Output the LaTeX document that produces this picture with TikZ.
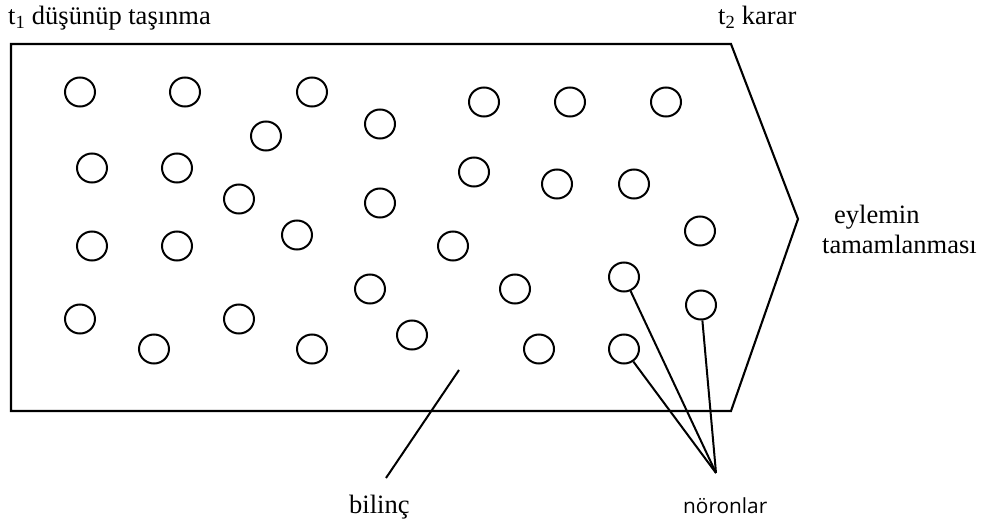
\documentclass[tikz,border=0pt]{standalone}
\usepackage{fontspec}
\setmainfont{Liberation Serif}
\newfontfamily\labelsans{Open Sans}
\usetikzlibrary{shapes.geometric}
\tikzset{
  neuron/.style={ellipse, draw, line width=2pt, minimum width=30pt, minimum height=29pt, inner sep=0pt},
  pointer/.style={line width=2pt},
  frame/.style={line width=2.1pt, line join=miter},
  serlabel/.style={inner sep=0pt, font=\fontsize{26.5}{30}\selectfont},
  sanslabel/.style={inner sep=0pt, font=\labelsans\fontsize{20.8}{24}\selectfont}
}
\begin{document}
\begin{tikzpicture}[x=1pt,y=-1pt]
\useasboundingbox (0,0) rectangle (982,527);
% frame
\coordinate (tl) at (11,44);
\coordinate (tr) at (731,44);
\coordinate (tip) at (798,219);
\coordinate (br) at (731,411);
\coordinate (bl) at (11,411);
\draw[frame] (tl) -- (tr) -- (tip) -- (br) -- (bl) -- cycle;
% neurons
\node[neuron] (n1) at (80,92) {};
\node[neuron] (n2) at (185,92) {};
\node[neuron] (n3) at (312,92) {};
\node[neuron] (n4) at (266,136) {};
\node[neuron] (n5) at (92,168) {};
\node[neuron] (n6) at (177,168) {};
\node[neuron] (n7) at (239,199) {};
\node[neuron] (n8) at (297,235) {};
\node[neuron] (n9) at (92,246) {};
\node[neuron] (n10) at (177,246) {};
\node[neuron] (n11) at (80,319) {};
\node[neuron] (n12) at (239,319) {};
\node[neuron] (n13) at (154,349) {};
\node[neuron] (n14) at (312,349) {};
\node[neuron] (n15) at (380,124) {};
\node[neuron] (n16) at (484,102) {};
\node[neuron] (n17) at (570,102) {};
\node[neuron] (n18) at (380,203) {};
\node[neuron] (n19) at (474,172) {};
\node[neuron] (n20) at (557,184) {};
\node[neuron] (n21) at (634,184) {};
\node[neuron] (n22) at (453,246) {};
\node[neuron] (n23) at (370,289) {};
\node[neuron] (n24) at (515,289) {};
\node[neuron] (n25) at (624,277) {};
\node[neuron] (n26) at (412,335) {};
\node[neuron] (n27) at (539,349) {};
\node[neuron] (n28) at (624,349) {};
\node[neuron] (n29) at (666,102) {};
\node[neuron] (n30) at (700,231) {};
\node[neuron] (n31) at (701,305) {};
% pointers
\coordinate (conv) at (716,473);
\draw[pointer] (n25) -- (conv);
\draw[pointer] (n28) -- (conv);
\draw[pointer] (n31) -- (conv);
\coordinate (bA) at (459,370);
\coordinate (bB) at (386,478);
\draw[pointer] (bA) -- (bB);
% labels
\node[serlabel, anchor=base west] (t1) at (8,25) {t\textsubscript{1} düşünüp taşınma};
\node[serlabel, anchor=base west] (t2) at (718,25) {t\textsubscript{2} karar};
\node[serlabel, anchor=base west] (ey) at (834,223) {eylemin};
\node[serlabel, anchor=base west] (tam) at (822,253) {tamamlanması};
\node[serlabel, anchor=base west] (bil) at (349,513) {bilinç};
\node[sanslabel, anchor=base west] (nor) at (683,513) {nöronlar};
\end{tikzpicture}
\end{document}
